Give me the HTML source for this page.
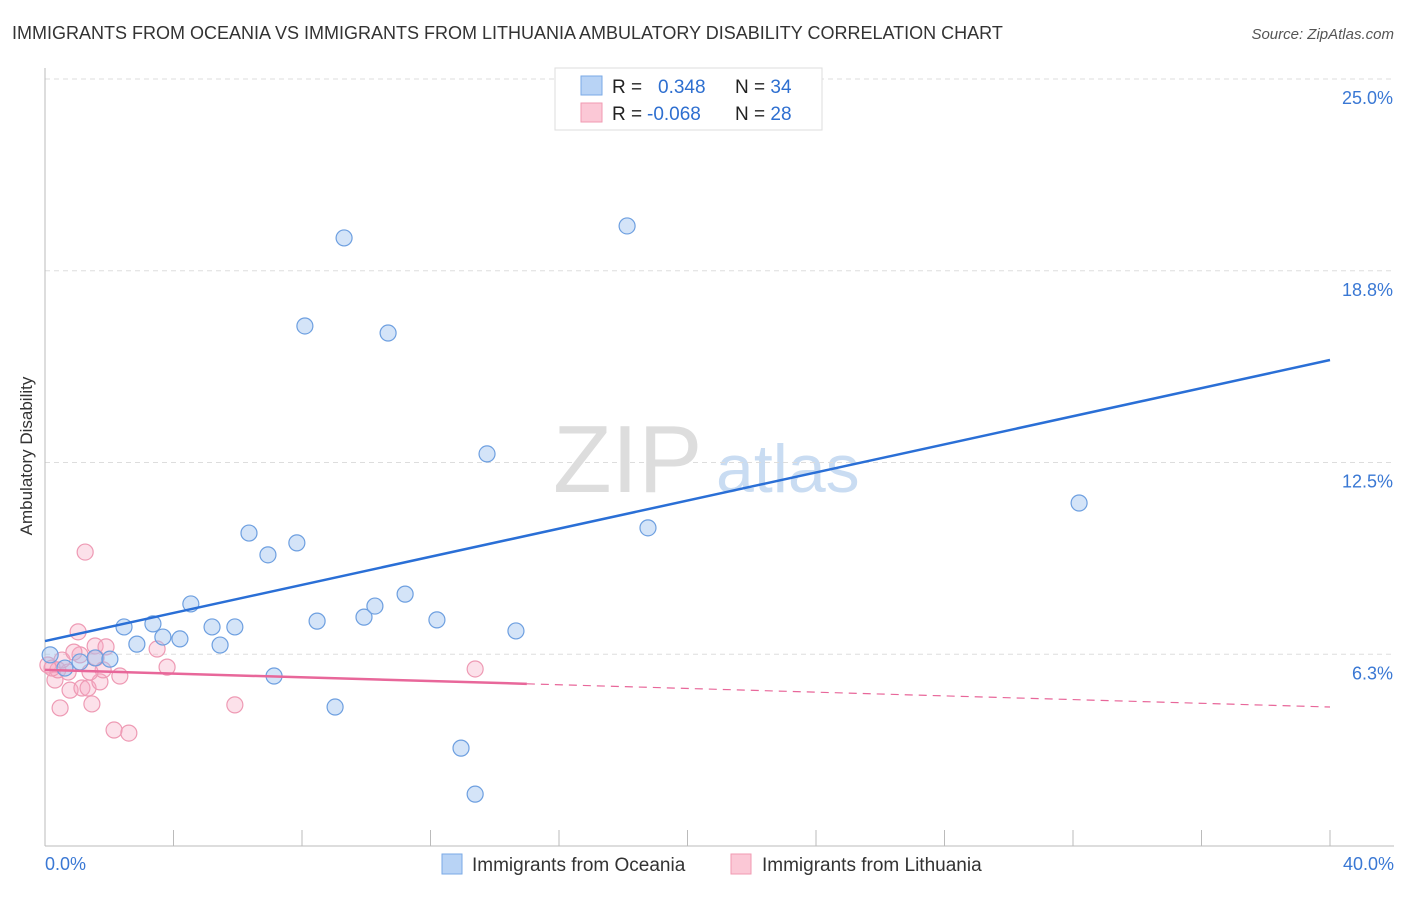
<!DOCTYPE html>
<html><head><meta charset="utf-8"><style>
body{margin:0;background:#fff;font-family:"Liberation Sans",sans-serif}
svg text{font-family:"Liberation Sans",sans-serif}
</style></head><body>
<svg id="c" width="1406" height="892">
<text x="12" y="39" font-size="18" fill="#333">IMMIGRANTS FROM OCEANIA VS IMMIGRANTS FROM LITHUANIA AMBULATORY DISABILITY CORRELATION CHART</text>
<text x="1394" y="39" font-size="15" fill="#555" font-style="italic" text-anchor="end">Source: ZipAtlas.com</text>
<text x="32" y="456" font-size="17" fill="#333" text-anchor="middle" transform="rotate(-90 32 456)">Ambulatory Disability</text>
<text x="553" y="492" font-size="96" fill="#ddd" font-family="Liberation Serif">ZIP</text>
<text x="716" y="492" font-size="68" fill="#c9dcf2">atlas</text>
<g id="grid"></g><g id="pts"></g><g id="lines"></g>
<g>
<rect x="555" y="68" width="267" height="62" fill="#fff" stroke="#ddd"/>
<rect x="581" y="76" width="21" height="19" fill="#b8d3f5" stroke="#7aaae6"/>
<rect x="581" y="103" width="21" height="19" fill="#fbc8d6" stroke="#f09ab2"/>
<text x="612" y="93" font-size="19" fill="#222">R = <tspan fill="#2e6fd0" x="658">0.348</tspan><tspan fill="#222" x="735">N = </tspan><tspan fill="#2e6fd0">34</tspan></text>
<text x="612" y="120" font-size="19" fill="#222">R = <tspan fill="#2e6fd0" x="647">-0.068</tspan><tspan fill="#222" x="735">N = </tspan><tspan fill="#2e6fd0">28</tspan></text>
</g>
<g>
<rect x="442" y="854" width="20" height="20" fill="#b8d3f5" stroke="#7aaae6"/>
<text x="472" y="871" font-size="19" fill="#333">Immigrants from Oceania</text>
<rect x="731" y="854" width="20" height="20" fill="#fbc8d6" stroke="#f09ab2"/>
<text x="762" y="871" font-size="19" fill="#333">Immigrants from Lithuania</text>
</g>
</svg>
<script>
const yTicks=[25,18.75,12.5,6.25];
const yTickLabels=["25.0%","18.8%","12.5%","6.3%"];
const xTickLabels=["0.0%","40.0%"];
const oceaniaX=[0.16,0.62,1.09,1.56,2.02,2.46,2.86,3.36,3.67,4.20,4.54,5.20,5.45,5.91,6.35,6.94,7.13,7.84,8.09,8.47,9.03,9.31,9.93,10.27,10.68,11.21,12.20,12.95,13.39,13.76,14.66,18.12,18.77,32.19];
const oceaniaY=[6.23,5.80,6.00,6.13,6.09,7.14,6.58,7.24,6.81,6.75,7.89,7.14,6.55,7.14,10.20,9.49,5.54,9.88,16.95,7.33,4.53,19.82,7.46,7.82,16.72,8.21,7.37,3.19,1.69,12.78,7.01,20.21,10.37,11.18];
const lithX=[0.09,0.31,0.40,0.47,0.72,0.78,1.03,1.09,1.15,1.25,1.34,1.46,1.56,1.59,1.71,1.81,1.90,2.15,2.33,2.61,3.49,3.80,5.91,13.39,0.22,0.53,0.90,1.40];
const lithY=[5.90,5.41,5.74,4.50,5.67,5.08,6.98,6.23,5.15,9.58,5.15,4.63,6.52,6.13,5.35,5.74,6.49,3.78,5.54,3.68,6.42,5.83,4.60,5.77,5.80,6.06,6.32,5.67];
const oceaniaTrend=[6.68,15.84];
const lithTrend=[5.74,4.53];
const lithSolidEnd=15;
const NS="http://www.w3.org/2000/svg";
const X=v=>45+v/40*1285, Y=v=>846-v/25*767;
function mk(p,t,a){const e=document.createElementNS(NS,t);for(const k in a)e.setAttribute(k,a[k]);p.appendChild(e);return e;}
const g=document.getElementById('grid');
yTicks.forEach((t,i)=>{
 const l=mk(g,'line',{x1:45,x2:1394,y1:Y(t),y2:Y(t),stroke:'#ddd','stroke-dasharray':'5,4'});
 
 
 const tx=mk(g,'text',{x:1393,y:Y(t)+25,'font-size':18,fill:'#3a78d4','text-anchor':'end'});tx.textContent=yTickLabels[i];
 
 
});
const ax=mk(g,'line',{x1:45,x2:45,y1:68,y2:846,stroke:'#bbb'});


const bx=mk(g,'line',{x1:45,x2:1394,y1:846,y2:846,stroke:'#bbb'});


for(let i=0;i<=10;i++){const t=mk(g,'line',{x1:X(i*4),x2:X(i*4),y1:830,y2:846,stroke:'#bbb'});
 
 }
[[0,'start',45],[40,'end',1394]].forEach((d,i)=>{const t=mk(g,'text',{x:d[2],y:870,'font-size':18,fill:'#3a78d4','text-anchor':d[1]});t.textContent=xTickLabels[i];
 
 });
const p=document.getElementById('pts');
lithX.forEach((v,i)=>{const c=mk(p,'circle',{cx:X(v),cy:Y(lithY[i]),r:8,fill:'rgba(247,170,195,0.35)',stroke:'#ee9ab4','stroke-width':1.2});
 
 });
oceaniaX.forEach((v,i)=>{const c=mk(p,'circle',{cx:X(v),cy:Y(oceaniaY[i]),r:8,fill:'rgba(160,196,240,0.45)',stroke:'#6d9fe0','stroke-width':1.2});
 
 });
const L=document.getElementById('lines');
const b=mk(L,'line',{x1:X(0),y1:Y(oceaniaTrend[0]),x2:X(40),y2:Y(oceaniaTrend[1]),stroke:'#2a6fd6','stroke-width':2.5});


const ly=x=>lithTrend[0]+(lithTrend[1]-lithTrend[0])*x/40;
const r1=mk(L,'line',{x1:X(0),y1:Y(lithTrend[0]),x2:X(lithSolidEnd),y2:Y(ly(lithSolidEnd)),stroke:'#e8679a','stroke-width':2.5});


const r2=mk(L,'line',{x1:X(lithSolidEnd),y1:Y(ly(lithSolidEnd)),x2:X(40),y2:Y(lithTrend[1]),stroke:'#e8679a','stroke-width':1.2,'stroke-dasharray':'8,6'});


</script>
</body></html>
